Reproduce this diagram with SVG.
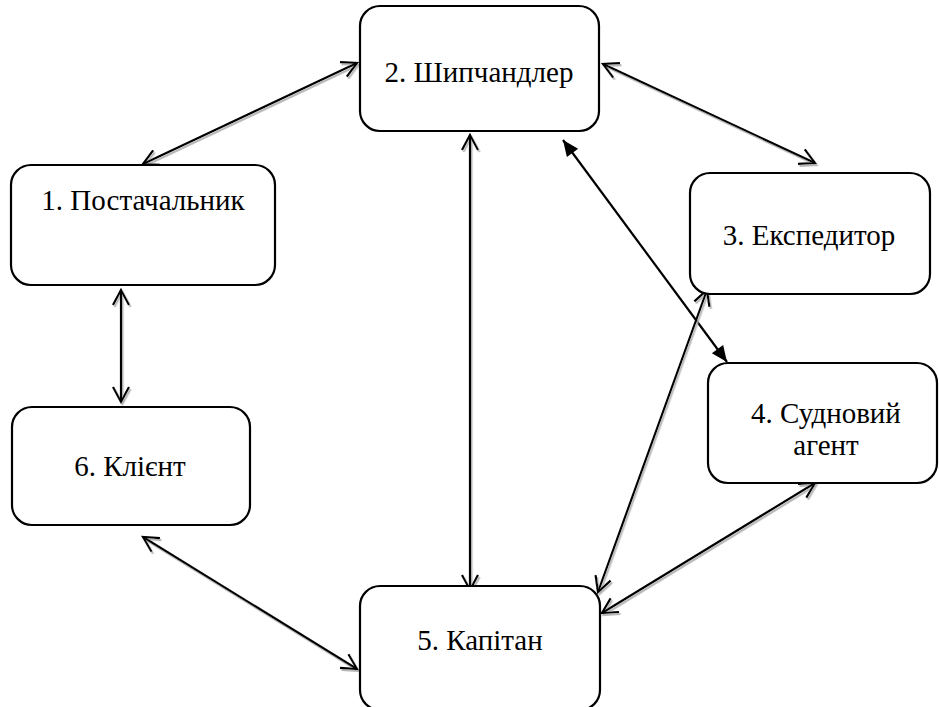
<svg xmlns="http://www.w3.org/2000/svg" width="939" height="707" viewBox="0 0 939 707">
  <style>
    .box { fill: #ffffff; stroke: #000000; stroke-width: 2.2; }
    .lbl { font-family: 'Liberation Serif', 'Times New Roman', serif; font-size: 29px; fill: #000000; text-anchor: middle; }
    .c { stroke: #000000; stroke-width: 2.2; fill: none; }
    .open { marker-start: url(#openHead); marker-end: url(#openHead); filter: url(#shadow); }
    .solid { marker-start: url(#solidHead); marker-end: url(#solidHead); }
  </style>
  <defs>
    <marker id="openHead" markerUnits="userSpaceOnUse" markerWidth="24" markerHeight="24" viewBox="-20 -12 24 24" refX="0" refY="0" orient="auto-start-reverse" overflow="visible">
      <path d="M-15,-8 L0,0 L-15,8" fill="none" stroke="#000000" stroke-width="2.2"/>
    </marker>
    <marker id="solidHead" markerUnits="userSpaceOnUse" markerWidth="24" markerHeight="24" viewBox="-20 -12 24 24" refX="0" refY="0" orient="auto-start-reverse" overflow="visible">
      <path d="M-16,-7 L0,0 L-16,7 Z" fill="#000000" stroke="none"/>
    </marker>
    <filter id="shadow" filterUnits="userSpaceOnUse" x="0" y="0" width="939" height="707">
      <feDropShadow dx="1.5" dy="2" stdDeviation="0.6" flood-color="#b0b0b0" flood-opacity="0.9"/>
    </filter>
  </defs>

  <g id="connectors">
    <line class="c open" x1="143" y1="164" x2="357" y2="63"/>
    <line class="c open" x1="603" y1="64" x2="815" y2="163"/>
    <line class="c solid" x1="563" y1="140" x2="727" y2="362"/>
    <line class="c open" x1="707" y1="290" x2="598" y2="592"/>
    <line class="c open" x1="815" y1="483" x2="602" y2="613"/>
    <line class="c open" x1="143" y1="537" x2="357" y2="669"/>
    <line class="c open" x1="121" y1="290" x2="121" y2="402"/>
    <line class="c open" x1="470" y1="135" x2="470" y2="590"/>
  </g>

  <g id="node1">
    <rect class="box" x="11" y="165" width="264" height="120" rx="20" ry="20"/>
    <text class="lbl" x="143" y="210">1. Постачальник</text>
  </g>
  <g id="node2">
    <rect class="box" x="360" y="6" width="239" height="125" rx="20" ry="20"/>
    <text class="lbl" x="479" y="82">2. Шипчандлер</text>
  </g>
  <g id="node3">
    <rect class="box" x="690" y="173" width="240" height="121" rx="20" ry="20"/>
    <text class="lbl" x="809" y="245">3. Експедитор</text>
  </g>
  <g id="node4">
    <rect class="box" x="708" y="363" width="229" height="120" rx="20" ry="20"/>
    <text class="lbl" x="826" y="423">4. Судновий</text>
    <text class="lbl" x="826" y="455">агент</text>
  </g>
  <g id="node5">
    <rect class="box" x="360" y="586" width="240" height="124" rx="20" ry="20"/>
    <text class="lbl" x="480" y="650">5. Капітан</text>
  </g>
  <g id="node6">
    <rect class="box" x="12" y="407" width="238" height="118" rx="20" ry="20"/>
    <text class="lbl" x="130" y="476">6. Клієнт</text>
  </g>
</svg>
